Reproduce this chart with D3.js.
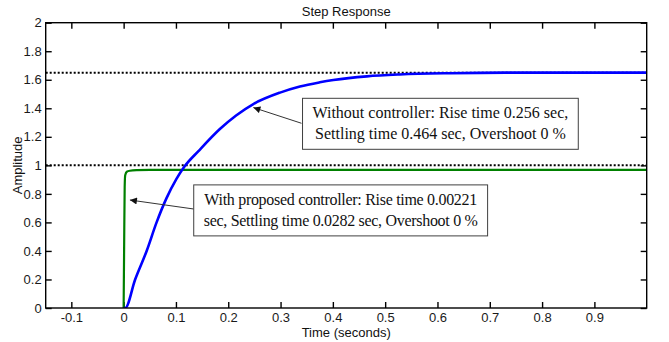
<!DOCTYPE html>
<html>
<head>
<meta charset="utf-8">
<script src="https://cdn.jsdelivr.net/npm/d3@7"></script>
<style>
  body { margin: 0; background: #fff; }
  .tick text { font-family: "Liberation Sans", Arial, sans-serif; font-size: 13px; fill: #1a1a1a; }
  .axisText { font-family: "Liberation Sans", Arial, sans-serif; font-size: 13px; fill: #111; }
  .note { font-family: "Liberation Serif", "Times New Roman", serif; font-size: 16px; fill: #111; }
</style>
</head>
<body>
<div id="chart"></div>
<script>
// ---------- data ----------
// without controller (blue)
var blueTime = [0, 0.003, 0.022, 0.044, 0.063, 0.082, 0.101, 0.117, 0.143, 0.184, 0.215, 0.248, 0.299, 0.337, 0.375, 0.401, 0.465, 0.528, 0.624, 0.73, 0.85, 1.0];
var blueAmp  = [0, 0, 0.2, 0.4, 0.6, 0.77, 0.905, 0.995, 1.10, 1.255, 1.35, 1.43, 1.51, 1.553, 1.582, 1.598, 1.624, 1.637, 1.646, 1.65, 1.65, 1.65];

// with proposed controller (green)
var greenTime = [0, 0.001, 0.002, 0.003, 0.006, 0.012, 0.025, 0.05, 1.0];
var greenAmp  = [0, 0.45, 0.85, 0.93, 0.955, 0.962, 0.966, 0.968, 0.968];

// dotted steady-state lines
var refLevels = [1.65, 1];

var xTicks = [-0.1, 0, 0.1, 0.2, 0.3, 0.4, 0.5, 0.6, 0.7, 0.8, 0.9];
var yTicks = [0, 0.2, 0.4, 0.6, 0.8, 1, 1.2, 1.4, 1.6, 1.8, 2];

var noteLines = [
  ["Without controller: Rise time 0.256 sec,", "Settling time 0.464 sec, Overshoot 0 %"],
  ["With proposed controller: Rise time 0.00221", "sec, Settling time 0.0282 sec, Overshoot 0 %"]
];

// ---------- chart setup ----------
var svgWidth = 669;
var svgHeight = 342;
var margin = { top: 22.7, right: 22.3, bottom: 34, left: 45.7 };
var chartWidth = svgWidth - margin.left - margin.right;
var chartHeight = svgHeight - margin.top - margin.bottom;

var svg = d3.select("#chart").append("svg")
    .attr("width", svgWidth)
    .attr("height", svgHeight);

var chartGroup = svg.append("g")
    .attr("transform", `translate(${margin.left}, ${margin.top})`);

var xScale = d3.scaleLinear().domain([-0.149, 1.0]).range([0, chartWidth]);
var yScale = d3.scaleLinear().domain([0, 2]).range([chartHeight, 0]);

var defs = svg.append("defs");
defs.append("clipPath").attr("id", "plotClip")
  .append("rect").attr("width", chartWidth).attr("height", chartHeight);

defs.append("marker")
    .attr("id", "arrowHead")
    .attr("viewBox", "0 0 10 10")
    .attr("refX", 10).attr("refY", 5)
    .attr("markerWidth", 9).attr("markerHeight", 7)
    .attr("markerUnits", "userSpaceOnUse")
    .attr("orient", "auto")
  .append("path").attr("d", "M0,0 L10,5 L0,10 Z").attr("fill", "#111");

// ---------- axes (MATLAB box with inward ticks) ----------
var fmt = d => String(+d.toFixed(1));
function styleAxis(g) {
  g.select(".domain").remove();
  g.selectAll(".tick line").attr("stroke", "#000").attr("stroke-width", 1.4);
}

chartGroup.append("g")
    .attr("transform", `translate(0, ${chartHeight})`)
    .call(d3.axisBottom(xScale).tickValues(xTicks).tickFormat(fmt).tickSizeInner(-6).tickSizeOuter(0).tickPadding(5))
    .call(styleAxis);

chartGroup.append("g")
    .call(d3.axisTop(xScale).tickValues(xTicks).tickFormat("").tickSizeInner(-6).tickSizeOuter(0))
    .call(styleAxis);

chartGroup.append("g")
    .call(d3.axisLeft(yScale).tickValues(yTicks).tickFormat(fmt).tickSizeInner(-6).tickSizeOuter(0).tickPadding(4))
    .call(styleAxis);

chartGroup.append("g")
    .attr("transform", `translate(${chartWidth}, 0)`)
    .call(d3.axisRight(yScale).tickValues(yTicks).tickFormat("").tickSizeInner(-6).tickSizeOuter(0))
    .call(styleAxis);

// ---------- reference dotted lines ----------
chartGroup.selectAll(".refLine").data(refLevels).enter()
  .append("line")
    .attr("class", "refLine")
    .attr("x1", 0).attr("x2", chartWidth)
    .attr("y1", d => yScale(d)).attr("y2", d => yScale(d))
    .attr("stroke", "#000").attr("stroke-width", 2)
    .attr("stroke-dasharray", "2,2");

// ---------- response curves ----------
var plot = chartGroup.append("g").attr("clip-path", "url(#plotClip)");

var line = d3.line()
    .x(d => xScale(d[0]))
    .y(d => yScale(d[1]))
    .curve(d3.curveMonotoneX);

plot.append("path")
    .datum(d3.zip(greenTime, greenAmp))
    .attr("d", line)
    .attr("fill", "none").attr("stroke", "#008000").attr("stroke-width", 2.2);

plot.append("path")
    .datum(d3.zip(blueTime, blueAmp))
    .attr("d", line)
    .attr("fill", "none").attr("stroke", "#0000ff").attr("stroke-width", 2.6);

// ---------- box border ----------
chartGroup.append("rect")
    .attr("width", chartWidth).attr("height", chartHeight)
    .attr("fill", "none").attr("stroke", "#000").attr("stroke-width", 1.4);

// ---------- annotations (anchored in data units, box sized to its text) ----------
var notes = [
  { x0: 0.342, y0: 1.47, from: [0.340, 1.295], to: [0.248, 1.405], squeeze: 0 },
  { x0: 0.134, y0: 0.863, from: [0.134, 0.694], to: [0.012, 0.757], squeeze: -0.3 }
];

notes.forEach(function (n, i) {
  chartGroup.append("line")
      .attr("x1", xScale(n.from[0])).attr("y1", yScale(n.from[1]))
      .attr("x2", xScale(n.to[0])).attr("y2", yScale(n.to[1]))
      .attr("stroke", "#333").attr("stroke-width", 1)
      .attr("marker-end", "url(#arrowHead)");

  var bx = xScale(n.x0), by = yScale(n.y0);
  var box = chartGroup.append("rect")
      .attr("x", bx).attr("y", by).attr("height", 51)
      .attr("fill", "#fff").attr("stroke", "#404040").attr("stroke-width", 1);

  var label = chartGroup.append("text").attr("class", "note")
      .style("letter-spacing", n.squeeze + "px");
  label.selectAll("tspan").data(noteLines[i]).enter()
    .append("tspan")
      .attr("x", bx + 10)
      .attr("y", (d, j) => by + 20 + j * 21)
      .text(d => d);

  var widest = d3.max(label.selectAll("tspan").nodes(), t => t.getComputedTextLength());
  box.attr("width", widest + 20);
  // centre each line inside the box
  label.selectAll("tspan")
      .attr("x", bx + (widest + 20) / 2)
      .attr("text-anchor", "middle");
});

// ---------- titles ----------
svg.append("text")
    .attr("class", "axisText")
    .attr("x", margin.left + chartWidth / 2).attr("y", 16)
    .attr("text-anchor", "middle")
    .text("Step Response");

svg.append("text")
    .attr("class", "axisText")
    .attr("x", margin.left + chartWidth / 2).attr("y", 337)
    .attr("text-anchor", "middle")
    .text("Time (seconds)");

svg.append("text")
    .attr("class", "axisText")
    .attr("transform", `translate(22, ${margin.top + chartHeight / 2}) rotate(-90)`)
    .attr("text-anchor", "middle")
    .text("Amplitude");
</script>
</body>
</html>
